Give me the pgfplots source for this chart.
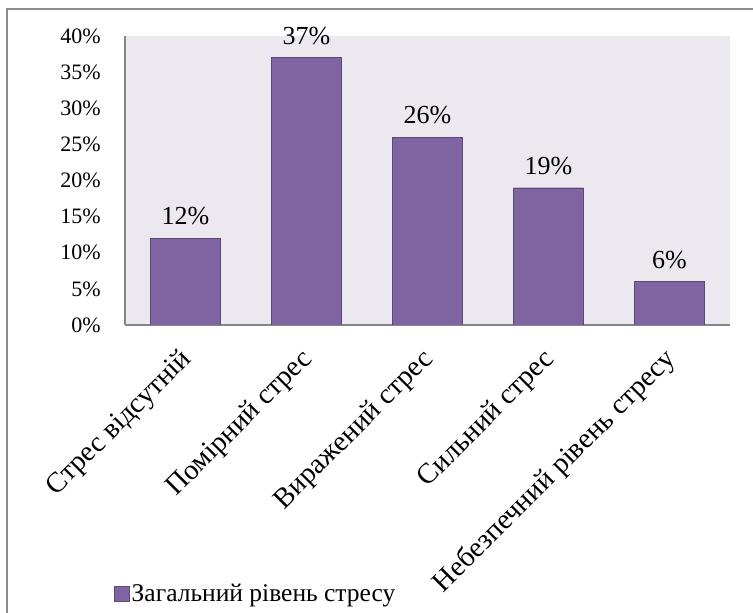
\documentclass[border=0pt]{standalone}
\usepackage{fontspec}
\setmainfont{Liberation Serif}
\usepackage{pgfplots}
\pgfplotsset{compat=1.18}
\definecolor{barfill}{HTML}{8064A2}
\definecolor{barline}{HTML}{5C4776}
\definecolor{plotbg}{HTML}{EBE9EF}
\definecolor{axgray}{HTML}{868686}
\definecolor{framegray}{HTML}{8C8C8C}
\begin{document}
\fontsize{18}{21}\selectfont
\begin{tikzpicture}
\useasboundingbox (0,0) rectangle (753pt,613pt);
\draw[framegray, line width=1.5pt] (7pt,0) -- (7pt,604pt) -- (753pt,604pt);
\begin{axis}[
  at={(125pt,288pt)}, anchor=south west,
  scale only axis, width=605pt, height=289pt,
  xmin=-0.5, xmax=4.5, ymin=0, ymax=40,
  axis background/.style={fill=plotbg},
  axis x line*=bottom, axis y line*=left,
  axis line style={axgray, line width=1.2pt},
  /pgf/number format/assume math mode=true,
  ytick={0,5,...,40},
  yticklabel={\pgfmathprintnumber{\tick}\%},
  ytick style={draw=none},
  yticklabel style={font=\fontsize{22}{26}\selectfont, xshift=-18pt},
  xtick={0,1,2,3,4},
  xticklabels={Стрес відсутній, Помірний стрес, Виражений стрес, Сильний стрес, Небезпечний рівень стресу},
  xtick style={draw=none},
  xticklabel style={font=\fontsize{28.5}{33}\selectfont, rotate=45, anchor=east, yshift=-23pt, xshift=-14pt},
  nodes near coords={\pgfmathprintnumber{\pgfplotspointmeta}\%},
  nodes near coords style={font=\fontsize{26}{30}\selectfont, yshift=7pt},
  legend style={at={(-0.018,-0.931)}, anchor=west, draw=none, fill=none, font=\fontsize{25.5}{30}\selectfont, inner sep=0pt, nodes={inner xsep=2pt, inner ysep=0pt}},
  legend image code/.code={\draw[fill=barfill, draw=barline] (0pt,-7.5pt) rectangle (15pt,7.5pt);},
]
\addplot[ybar, bar width=70pt, fill=barfill, draw=barline] coordinates {(0,12) (1,37) (2,26) (3,19) (4,6)};
\addlegendentry{Загальний рівень стресу}
\end{axis}
\end{tikzpicture}
\end{document}
